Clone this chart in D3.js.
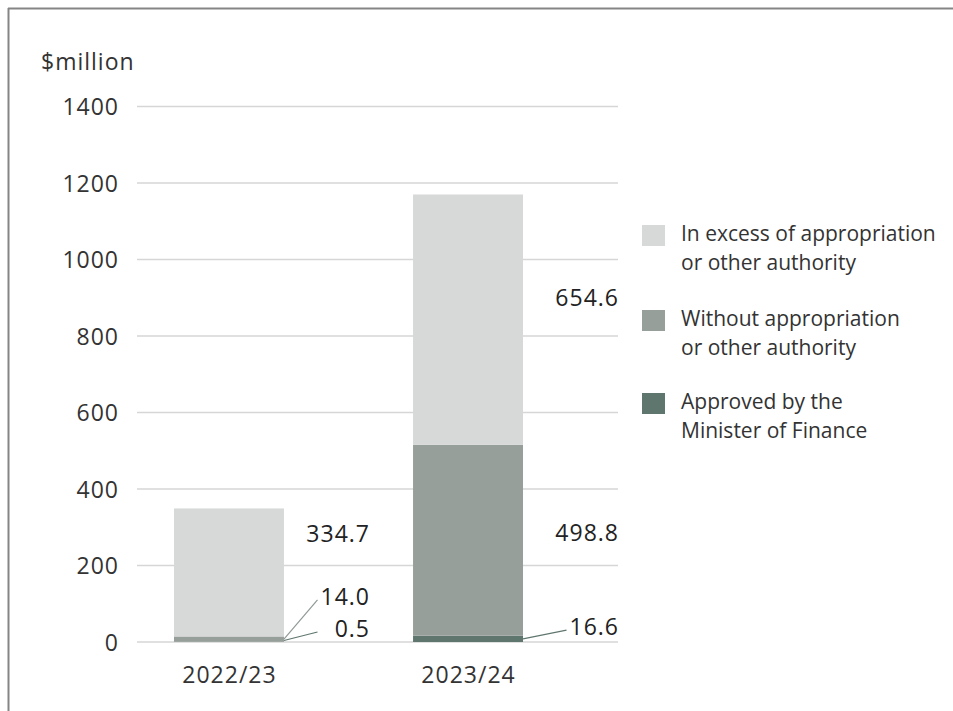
<!DOCTYPE html>
<html>
<head>
<meta charset="utf-8">
<script src="https://cdn.jsdelivr.net/npm/d3@7"></script>
<style>
  html, body { margin: 0; padding: 0; background: #fff; }
  svg { display: block; font-family: "Open Sans", "Noto Sans", sans-serif; }
</style>
</head>
<body>
<svg id="chart" width="953" height="711"></svg>
<script>
// Unappropriated expenditure, $million
const years = ["2022/23", "2023/24"];
const seriesNames = [
  "Approved by the Minister of Finance",
  "Without appropriation or other authority",
  "In excess of appropriation or other authority"
];
const approved = [0.5, 16.6];
const without = [14.0, 498.8];
const inExcess = [334.7, 654.6];
const yTicks = [0, 200, 400, 600, 800, 1000, 1200, 1400];
const legendLines = [
  ["In excess of appropriation", "or other authority"],
  ["Without appropriation", "or other authority"],
  ["Approved by the", "Minister of Finance"]
];

const colors = {
  "Approved by the Minister of Finance": "#5f766f",
  "Without appropriation or other authority": "#979f9b",
  "In excess of appropriation or other authority": "#d7d9d8"
};

const numFont = 23;
const numSpacing = 1;

const svg = d3.select("#chart");

// frame
svg.append("line").attr("x1", 8).attr("x2", 953).attr("y1", 8.5).attr("y2", 8.5)
  .attr("stroke", "#858585").attr("stroke-width", 2);
svg.append("line").attr("x1", 8.5).attr("x2", 8.5).attr("y1", 8).attr("y2", 711)
  .attr("stroke", "#858585").attr("stroke-width", 2);

const y = d3.scaleLinear().domain([0, 1400]).range([642, 106.5]);
const x = d3.scaleBand().domain(years).range([174, 523]).paddingInner(0.54).paddingOuter(0);

const gridX0 = 137, gridX1 = 618;

// gridlines
svg.append("g").selectAll("line").data(yTicks).join("line")
  .attr("x1", gridX0).attr("x2", gridX1)
  .attr("y1", d => y(d)).attr("y2", d => y(d))
  .attr("stroke", "#d6d6d6").attr("stroke-width", 1.5);

// y axis labels
const yAxis = d3.axisLeft(y).tickValues(yTicks).tickSize(0).tickPadding(0).tickFormat(d3.format("d"));
const gy = svg.append("g").attr("transform", "translate(119,0)").call(yAxis);
gy.select(".domain").remove();
gy.selectAll("text").attr("font-size", numFont).attr("fill", "#333").attr("dy", "0.35em")
  .attr("letter-spacing", numSpacing)
  .style("font-family", "'Open Sans', sans-serif");

svg.append("text").attr("x", 41).attr("y", 62).attr("dy", "0.35em")
  .attr("font-size", numFont).attr("letter-spacing", numSpacing)
  .attr("fill", "#333").text("$million");

// stacked bars
const rows = years.map((yr, i) => ({
  year: yr,
  [seriesNames[0]]: approved[i],
  [seriesNames[1]]: without[i],
  [seriesNames[2]]: inExcess[i]
}));
const stack = d3.stack().keys(seriesNames)(rows);

svg.append("g").selectAll("g").data(stack).join("g")
  .attr("fill", d => colors[d.key])
  .selectAll("rect").data(d => d).join("rect")
  .attr("x", d => x(d.data.year))
  .attr("width", x.bandwidth())
  .attr("y", d => y(d[1]))
  .attr("height", d => y(d[0]) - y(d[1]));

// x axis labels
const xAxis = d3.axisBottom(x).tickSize(0).tickPadding(0);
const gx = svg.append("g").attr("transform", "translate(0.5,675)").call(xAxis);
gx.select(".domain").remove();
gx.selectAll("text").attr("font-size", numFont).attr("fill", "#333").attr("dy", "0.35em")
  .attr("letter-spacing", numSpacing)
  .style("font-family", "'Open Sans', sans-serif");

// value labels: series index, year index, label anchor value, leader line
const labelPlacement = [
  { s: 2, i: 0, at: 283, leader: false },
  { s: 1, i: 0, at: 118, leader: true, color: "#8f9a95" },
  { s: 0, i: 0, at: 34, leader: true, color: "#5f766f" },
  { s: 2, i: 1, at: 899, leader: false },
  { s: 1, i: 1, at: 285, leader: false },
  { s: 0, i: 1, at: 39, leader: true, color: "#5f766f" }
];
const labelRight = { "2022/23": 370, "2023/24": 619 };
const values = [approved, without, inExcess];

const placed = labelPlacement.map(p => {
  const yr = years[p.i];
  const txt = svg.append("text")
    .attr("x", labelRight[yr]).attr("y", y(p.at)).attr("dy", "0.35em")
    .attr("text-anchor", "end").attr("font-size", numFont)
    .attr("letter-spacing", numSpacing).attr("fill", "#222")
    .text(d3.format(".1f")(values[p.s][p.i]));
  return { ...p, yr, w: txt.node().getComputedTextLength() };
});

// leader lines end at a shared column edge per year
const leaders = placed.filter(p => p.leader);
const colWidth = d3.rollup(leaders, v => d3.max(v, d => d.w), d => d.yr);
leaders.forEach(p => {
  const seg = stack[p.s][p.i];
  const barRight = x(p.yr) + x.bandwidth();
  svg.append("line")
    .attr("x1", barRight).attr("y1", Math.min(y((seg[0] + seg[1]) / 2), y(0) - 1.5))
    .attr("x2", labelRight[p.yr] - colWidth.get(p.yr) - 3).attr("y2", y(p.at) + 3)
    .attr("stroke", p.color).attr("stroke-width", 1.2);
});

// legend
const legend = svg.append("g");
const legendKeys = [seriesNames[2], seriesNames[1], seriesNames[0]];
const legendTop = [225, 310, 393];
legendKeys.forEach((k, j) => {
  const g = legend.append("g").attr("transform", `translate(642,${legendTop[j]})`);
  g.append("rect").attr("width", 23).attr("height", 21).attr("fill", colors[k]);
  g.selectAll("text").data(legendLines[j]).join("text")
    .attr("x", 39).attr("y", (d, n) => 16 + n * 29)
    .attr("font-size", 21).attr("fill", "#333").text(d => d);
});
</script>
</body>
</html>
